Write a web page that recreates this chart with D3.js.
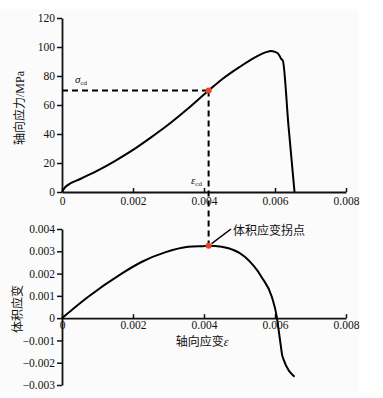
<!DOCTYPE html>
<html><head><meta charset="utf-8">
<script src="https://cdn.jsdelivr.net/npm/d3@7"></script>
<style>
body{margin:0;background:#fff;}
svg{display:block;}
</style></head>
<body>
<svg id="c" width="383" height="398"></svg>
<script>
// ---- data (strain in units of 1) ----
const stressStrain = [0, 0.0001, 0.0005, 0.0010, 0.0015, 0.0020, 0.0025, 0.0030, 0.0035, 0.00413, 0.0045, 0.0050, 0.0054, 0.0058, 0.00588, 0.0060, 0.00608, 0.00613, 0.00618, 0.00622, 0.00638, 0.00655];
const stressValues = [0, 3.6, 8.8, 14.7, 21.5, 29, 37.5, 46.5, 56.5, 70, 77.6, 86.2, 92.4, 96.8, 97.2, 96.6, 95.6, 93.8, 91.6, 90.6, 45.5, 0];
const volStrainX = [0, 0.0003, 0.00074, 0.00168, 0.00224, 0.0029, 0.00356, 0.00403, 0.00413, 0.0045, 0.00515, 0.00562, 0.00591, 0.00605, 0.0061, 0.00616, 0.0062, 0.00624, 0.00655];
const volStrainValues = [0, 0.0004, 0.00096, 0.0020, 0.00252, 0.00295, 0.0032, 0.00324, 0.00325, 0.0032, 0.00275, 0.00185, 0.00096, 0.00006, -0.0005, -0.0012, -0.00165, -0.00185, -0.00263];
const xTicks = [0, 0.002, 0.004, 0.006, 0.008];
const xTickLabels = ["0", "0.002", "0.004", "0.006", "0.008"];
const stressTicks = [0, 20, 40, 60, 80, 100, 120];
const volTicks = [-0.003, -0.002, -0.001, 0, 0.001, 0.002, 0.003, 0.004];
const volTickLabels = ["\u22120.003", "\u22120.002", "\u22120.001", "0", "0.001", "0.002", "0.003", "0.004"];
const cdPoint = {strain: 0.00413, stress: 70, vol: 0.00325};

const svg = d3.select("#c");
svg.append("rect").attr("x",0).attr("y",9).attr("width",359).attr("height",383).attr("fill","#fbfbfb");

const serif = "'Liberation Serif','Times New Roman',serif";
const cjk = "'Noto Sans CJK SC','Noto Sans CJK JP',sans-serif";
const ink = "#111";

const x = d3.scaleLinear().domain([0, 0.008]).range([62, 346]);
const yT = d3.scaleLinear().domain([0, 120]).range([192, 18]);
const yB = d3.scaleLinear().domain([-0.003, 0.004]).range([385, 229]);

function styleAxis(g){
  g.selectAll("path.domain").attr("stroke", ink).attr("stroke-width", 1.8);
  g.selectAll(".tick line").attr("stroke", ink).attr("stroke-width", 1.5);
  g.selectAll(".tick text").attr("font-family", serif).attr("font-size", 11.5).attr("fill", ink);
}

// top chart
const gxT = svg.append("g").attr("transform", `translate(0,${yT(0)})`)
  .call(d3.axisBottom(x).tickValues(xTicks).tickFormat((d,i)=>xTickLabels[i]).tickSizeInner(-4).tickSizeOuter(0).tickPadding(5));
styleAxis(gxT);
const gyT = svg.append("g").attr("transform", `translate(${x(0)},0)`)
  .call(d3.axisLeft(yT).tickValues(stressTicks).tickFormat(d3.format("d")).tickSizeInner(5).tickSizeOuter(0).tickPadding(2));
styleAxis(gyT);

// bottom chart
const gxB = svg.append("g").attr("transform", `translate(0,${yB(0)})`)
  .call(d3.axisBottom(x).tickValues(xTicks).tickFormat((d,i)=>xTickLabels[i]).tickSizeInner(-4).tickSizeOuter(0).tickPadding(3));
styleAxis(gxB);
const gyB = svg.append("g").attr("transform", `translate(${x(0)},0)`)
  .call(d3.axisLeft(yB).tickValues(volTicks).tickFormat((d,i)=>volTickLabels[i]).tickSizeInner(5).tickSizeOuter(0).tickPadding(2));
styleAxis(gyB);

// curves
const topData = stressStrain.map((s,i)=>[s, stressValues[i]]);
const botData = volStrainX.map((s,i)=>[s, volStrainValues[i]]);
svg.append("path").datum(topData)
  .attr("d", d3.line().x(d=>x(d[0])).y(d=>yT(d[1])).curve(d3.curveMonotoneX))
  .attr("fill","none").attr("stroke","#000").attr("stroke-width",2);
svg.append("path").datum(botData)
  .attr("d", d3.line().x(d=>x(d[0])).y(d=>yB(d[1])).curve(d3.curveMonotoneX))
  .attr("fill","none").attr("stroke","#000").attr("stroke-width",2);

// dashed guides
svg.append("line").attr("x1", x(0)).attr("x2", x(cdPoint.strain)).attr("y1", yT(cdPoint.stress)).attr("y2", yT(cdPoint.stress))
  .attr("stroke","#000").attr("stroke-width",2).attr("stroke-dasharray","6,4");
svg.append("line").attr("x1", x(cdPoint.strain)).attr("x2", x(cdPoint.strain)).attr("y1", yT(cdPoint.stress)).attr("y2", yB(cdPoint.vol))
  .attr("stroke","#000").attr("stroke-width",2).attr("stroke-dasharray","6,4");

// red points
svg.append("circle").attr("cx", x(cdPoint.strain)).attr("cy", yT(cdPoint.stress)).attr("r",3).attr("fill","#ee4422");
svg.append("circle").attr("cx", x(cdPoint.strain)).attr("cy", yB(cdPoint.vol)).attr("r",3).attr("fill","#ee4422");

// annotation
svg.append("line").attr("x1", x(cdPoint.strain)+3).attr("y1", yB(cdPoint.vol)-2).attr("x2", 231).attr("y2", 229)
  .attr("stroke","#000").attr("stroke-width",1.5);
svg.append("text").attr("x",233).attr("y",235).attr("font-family",cjk).attr("font-size",12).attr("fill",ink).text("体积应变拐点");

// sigma_cd, eps_cd labels
const sig = svg.append("text").attr("x",75).attr("y",83).attr("font-family",serif).attr("fill",ink);
sig.append("tspan").attr("font-style","italic").attr("font-size",11).text("σ");
sig.append("tspan").attr("font-size",7).attr("dy",2).text("cd");
const eps = svg.append("text").attr("x",191).attr("y",184).attr("font-family",serif).attr("fill",ink);
eps.append("tspan").attr("font-style","italic").attr("font-size",11).text("ε");
eps.append("tspan").attr("font-size",7).attr("dy",2).text("cd");

// axis titles
const yl = svg.append("text").attr("transform","translate(24,108) rotate(-90)").attr("text-anchor","middle").attr("fill",ink);
yl.append("tspan").attr("font-family",cjk).attr("font-size",12).text("轴向应力");
yl.append("tspan").attr("font-family",serif).attr("font-size",12).text("/MPa");
svg.append("text").attr("transform","translate(22,309) rotate(-90)").attr("text-anchor","middle")
  .attr("font-family",cjk).attr("font-size",12).attr("fill",ink).text("体积应变");
const xl = svg.append("text").attr("x",202).attr("y",346).attr("text-anchor","middle").attr("fill",ink);
xl.append("tspan").attr("font-family",cjk).attr("font-size",12).text("轴向应变");
xl.append("tspan").attr("font-family",serif).attr("font-style","italic").attr("font-size",12).text("ε");
</script>
</body></html>
